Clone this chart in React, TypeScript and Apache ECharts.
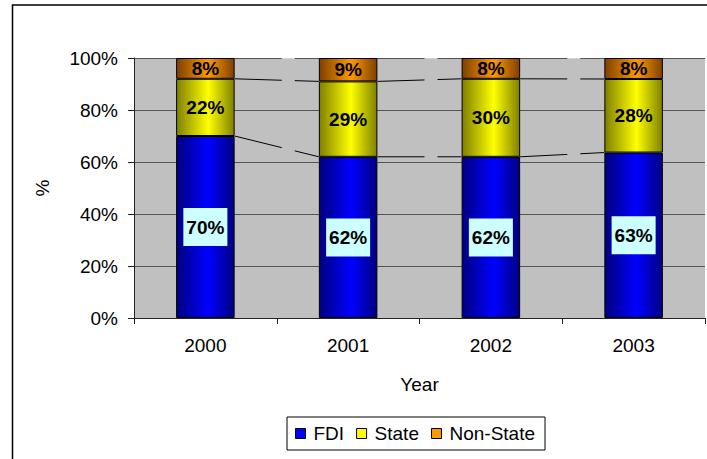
import React, { useEffect, useRef } from "react";
import * as echarts from "echarts";

const years = ["2000", "2001", "2002", "2003"];
const fdi = [70, 62, 62, 63];
const stateVals = [22, 29, 30, 28];
const nonState = [8, 9, 8, 8];
const yTicks = [0, 20, 40, 60, 80, 100];

const FONT = "'Liberation Sans', Arial, sans-serif";
const BAR_FRAC = 0.41;

function grad(dark: string, bright: string) {
  return new echarts.graphic.LinearGradient(0, 0, 1, 0, [
    { offset: 0, color: dark },
    { offset: 0.55, color: bright },
    { offset: 1, color: dark },
  ]);
}

export default function App() {
  const ref = useRef<HTMLDivElement>(null);
  useEffect(() => {
    if (!ref.current) return;
    const chart = echarts.init(ref.current, undefined, { renderer: "svg" });
    const totals = years.map((_, i) => fdi[i] + stateVals[i] + nonState[i]);
    const fdiShare = fdi.map((v, i) => (v / totals[i]) * 100);
    const stateShare = stateVals.map((v, i) => (v / totals[i]) * 100);
    const nonShare = nonState.map((v, i) => (v / totals[i]) * 100);
    const cumF = fdiShare;
    const cumS = fdiShare.map((v, i) => v + stateShare[i]);

    const labelBase = {
      show: true,
      position: "inside",
      fontFamily: FONT,
      fontSize: 19,
      fontWeight: "bold",
      color: "#000",
    };

    const renderLines = (params: any, api: any) => {
      const i = api.value(0);
      const band = api.size([1, 0])[0];
      const half = (band * BAR_FRAC) / 2;
      const children: any[] = [];
      [cumF, cumS].forEach((cum) => {
        const p0 = api.coord([i, cum[i]]);
        const p1 = api.coord([i + 1, cum[i + 1]]);
        const x0 = p0[0] + half;
        const x1 = p1[0] - half;
        const mid = p0[0] + band / 2;
        const g0 = mid + 5;
        const g1 = mid + 18;
        const yAt = (x: number) => p0[1] + ((p1[1] - p0[1]) * (x - x0)) / (x1 - x0);
        children.push({
          type: "line",
          shape: { x1: x0, y1: p0[1], x2: g0, y2: yAt(g0) },
          style: { stroke: "#000", lineWidth: 1 },
        });
        children.push({
          type: "line",
          shape: { x1: g1, y1: yAt(g1), x2: x1, y2: p1[1] },
          style: { stroke: "#000", lineWidth: 1 },
        });
      });
      const top = api.coord([i, 100]);
      const mid = top[0] + band / 2;
      children.push({
        type: "line",
        shape: { x1: mid + 5, y1: top[1], x2: mid + 18, y2: top[1] },
        style: { stroke: "#fff", lineWidth: 1.5 },
      });
      return { type: "group", children };
    };

    chart.setOption({
      animation: false,
      backgroundColor: "#fff",
      textStyle: { fontFamily: FONT },
      graphic: [
        {
          type: "rect",
          silent: true,
          shape: { x: 12.5, y: 5, width: 720, height: 480 },
          style: { fill: "none", stroke: "#000", lineWidth: 1.5 },
        },
      ],
      grid: {
        left: 134,
        right: 2,
        top: 58,
        bottom: 141,
        show: true,
        backgroundColor: "#c0c0c0",
        borderWidth: 0,
      },
      legend: {
        left: 287,
        top: 417,
        padding: [7, 10, 7, 8],
        borderColor: "#000",
        borderWidth: 1,
        itemWidth: 10,
        itemHeight: 10,
        itemGap: 12,
        icon: "rect",
        textStyle: { fontFamily: FONT, fontSize: 19, color: "#000", padding: [0, 0, 0, 3] },
        data: [
          { name: "FDI", itemStyle: { color: "#0000ff", borderColor: "#000", borderWidth: 1 } },
          { name: "State", itemStyle: { color: "#ffff00", borderColor: "#000", borderWidth: 1 } },
          { name: "Non-State", itemStyle: { color: "#ff9900", borderColor: "#000", borderWidth: 1 } },
        ],
      },
      xAxis: {
        type: "category",
        data: years,
        name: "Year",
        nameLocation: "middle",
        nameGap: 57,
        nameTextStyle: { fontFamily: FONT, fontSize: 19, color: "#000" },
        axisLine: { lineStyle: { color: "#222", width: 1 } },
        axisTick: { show: true, length: 6, alignWithLabel: false, lineStyle: { color: "#222" } },
        axisLabel: { fontFamily: FONT, fontSize: 19, color: "#000", margin: 18 },
      },
      yAxis: {
        type: "value",
        min: yTicks[0],
        max: yTicks[yTicks.length - 1],
        interval: 20,
        name: "%",
        nameLocation: "middle",
        nameGap: 82,
        nameTextStyle: { fontFamily: FONT, fontSize: 19, color: "#000" },
        axisLine: { show: true, lineStyle: { color: "#222", width: 1 } },
        axisTick: { show: true, length: 6, lineStyle: { color: "#222" } },
        axisLabel: { fontFamily: FONT, fontSize: 19, color: "#000", margin: 16, formatter: "{value}%" },
        splitLine: { show: true, lineStyle: { color: "#555", width: 1 } },
      },
      series: [
        {
          name: "FDI",
          type: "bar",
          stack: "total",
          barWidth: BAR_FRAC * 100 + "%",
          data: fdiShare,
          itemStyle: { color: grad("#000080", "#0000ff"), borderColor: "#000", borderWidth: 1 },
          label: {
            ...labelBase,
            backgroundColor: "#ccffff",
            padding: [8, 3, 8, 3],
            lineHeight: 22,
            formatter: (p: any) => fdi[p.dataIndex] + "%",
          },
        },
        {
          name: "State",
          type: "bar",
          stack: "total",
          data: stateShare,
          itemStyle: { color: grad("#808000", "#ffff00"), borderColor: "#000", borderWidth: 1 },
          label: { ...labelBase, formatter: (p: any) => stateVals[p.dataIndex] + "%" },
        },
        {
          name: "Non-State",
          type: "bar",
          stack: "total",
          data: nonShare,
          itemStyle: { color: grad("#804000", "#ff9900"), borderColor: "#000", borderWidth: 1 },
          label: { ...labelBase, formatter: (p: any) => nonState[p.dataIndex] + "%" },
        },
        {
          name: "seriesLines",
          type: "custom",
          silent: true,
          z: 5,
          data: [[0], [1], [2]],
          renderItem: renderLines,
        },
      ],
    });
    return () => chart.dispose();
  }, []);
  return (
    <div
      ref={ref}
      style={{ position: "absolute", left: 0, top: 0, width: 707, height: 459 }}
    />
  );
}
